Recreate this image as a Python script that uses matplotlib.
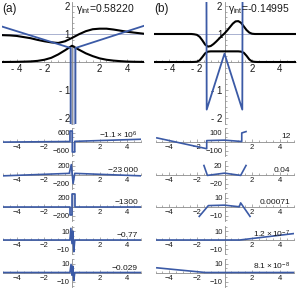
import matplotlib
matplotlib.use('Agg')
import matplotlib.pyplot as plt
from matplotlib.ticker import MultipleLocator

plt.rcParams['font.family'] = ['Liberation Sans', 'DejaVu Sans']
plt.rcParams['mathtext.fontset'] = 'custom'
plt.rcParams['mathtext.rm'] = 'Liberation Sans'
plt.rcParams['mathtext.it'] = 'Liberation Sans:italic'
plt.rcParams['axes.unicode_minus'] = True

# ---------------- data ----------------
# top panel (a)
xa_top = [-5.1, -4.5, -4, -3.5, -3, -2.5, -2, -1.5, -1, -0.5, 0, 0.5, 1, 1.5, 2, 2.5, 3, 3.5, 4, 4.5, 5.2]
a_upper = [0.96, 0.95, 0.93, 0.89, 0.85, 0.79, 0.74, 0.70, 0.68, 0.74, 0.86, 0.99, 1.10, 1.17, 1.19, 1.19, 1.16, 1.12, 1.08, 1.05, 1.01]
a_lower = [0.0, 0.003, 0.006, 0.012, 0.02, 0.04, 0.08, 0.15, 0.27, 0.42, 0.58, 0.44, 0.31, 0.21, 0.13, 0.08, 0.05, 0.03, 0.015, 0.008, 0.003]
a_blue_x = [-5.1, -0.1, -0.1, 0.25, 0.25, 5.2]
a_blue_y = [1.27, 0.5, -3.0, -3.0, 0.5, 1.29]
a_gamma = r'$\mathrm{\gamma_{int}}$=0.58220'

# top panel (b)
xb_top = [-5.1, -3, -2.4, -2.2, -2.0, -1.8, -1.6, -1.4, -1.2, -1.0, -0.8, -0.6, -0.4, -0.2, 0, 0.2, 0.4, 0.6, 0.8, 1.0, 1.2, 1.4, 1.6, 1.8, 2.0, 2.2, 2.4, 3, 5.2]
b_upper = [1, 1, 1, 0.99, 0.97, 0.90, 0.77, 0.62, 0.55, 0.57, 0.64, 0.73, 0.83, 0.93, 1.02, 1.13, 1.25, 1.37, 1.45, 1.46, 1.40, 1.27, 1.14, 1.05, 1.01, 1.0, 1, 1, 1]
b_lower = [0, 0, 0, 0.003, 0.01, 0.06, 0.18, 0.31, 0.37, 0.38, 0.38, 0.38, 0.38, 0.38, 0.38, 0.38, 0.38, 0.38, 0.38, 0.38, 0.37, 0.33, 0.22, 0.09, 0.02, 0.005, 0, 0, 0]
b_blue_x = [-1.31, -1.29, 0, 1.29, 1.31]
b_blue_y = [3.0, -1.7, 0.3, -1.7, 3.0]
b_gamma = r'$\mathrm{\gamma_{int}}$=-0.14995'

# small panels (a)
xa1 = [-5, -0.15, -0.15, 0.02, 0.02, 0.2, 0.2, 5]
ya1 = [-40, 0, 700, 700, -700, -700, 10, 150]
xa2 = [-5, -0.2, -0.05, 0.08, 0.2, 5]
ya2 = [-30, 25, 220, -200, 25, -30]
xa3 = [-5, -0.15, -0.15, 0.0, 0.0, 0.2, 0.2, 5]
ya3 = [0, 0, -190, -190, 280, 280, 0, 0]
xa4 = [-5, -0.15, -0.08, 0.0, 0.06, 0.13, 0.2, 5]
ya4 = [0, 0, 13, -4, 10, -13, 0, 0]
xa5 = [-5, -0.15, -0.07, 0.0, 0.06, 0.13, 0.2, 5]
ya5 = [0, 0, 9, -3, 7, -9, 0, 0]
a_tick = [600, 200, 200, 10, 10]
a_notes = [r'$\mathrm{-1.1\times10^{6}}$', '−23\u2009000', '−1300', '−0.77', '−0.029']

# small panels (b)
xb1 = [-4.9, -1.29, -1.29, 0, 1.25, 1.25, 1.56]
yb1 = [40, -80, 10, 15, 0, 95, 110]
xb2 = [-1.49, -1.24, 0, 1.17, 1.56]
yb2 = [20, -2, 3, -2, 20]
xb3 = [-1.83, -1.17, 0, 1.07, 1.17, 1.85]
yb3 = [-11, 1, 1.5, -0.3, 4, -11]
xb4 = [-5, 1.1, 5]
yb4 = [0, 0, 7.1]
xb5 = [-4.9, -1.4, 5]
yb5 = [5.2, 0, 0]
b_tick = [100, 20, 10, 10, 10]
b_notes = ['12', '0.04', '0.00071', r'$\mathrm{1.2\times10^{-7}}$', r'$\mathrm{8.1\times10^{-8}}$']

# ---------------- styling ----------------
W, H = 300, 291
BLUE = '#3b5aa6'
FILL = '#c3c9de'
AXC = '#8c8c8c'
GRID = '#a9b1d0'
TXT = '#1a1a1a'
UX = 13.8  # px per x unit

fig = plt.figure(figsize=(W / 100, H / 100), dpi=100)


def axes_px(x0, y0, x1, y1):
    return fig.add_axes([x0 / W, 1 - y1 / H, (x1 - x0) / W, (y1 - y0) / H])


def style(ax, fs, xlabels, yt, ylabels, yminor):
    for s in ['top', 'right']:
        ax.spines[s].set_visible(False)
    for s in ['left', 'bottom']:
        ax.spines[s].set_position(('data', 0))
        ax.spines[s].set_color(AXC)
        ax.spines[s].set_linewidth(0.6)
    ax.patch.set_alpha(0)
    ax.set_xticks([-4, -2, 2, 4])
    ax.set_xticklabels(xlabels)
    ax.xaxis.set_minor_locator(MultipleLocator(0.5))
    ax.set_yticks(yt)
    ax.set_yticklabels(ylabels)
    ax.yaxis.set_minor_locator(MultipleLocator(yminor))
    ax.tick_params(which='both', direction='in', color=AXC, width=0.5,
                   labelsize=fs, pad=1.5, labelcolor=TXT)
    ax.tick_params(which='major', length=2.5)
    ax.tick_params(which='minor', length=1.2)


def top_panel(xc, xs, up, lo, bx, by, gamma, letter, fill_spike):
    ax = axes_px(xc - 5.1 * UX, 2, xc + 5.2 * UX, 124)
    ax.set_xlim(-5.1, 5.2)
    ax.set_ylim(-62 / 28, 60 / 28)
    style(ax, 7, ['- 4', '- 2', '2', '4'], [-2, -1, 1, 2], ['- 2', '- 1', '1', '2'], 0.2)
    ax.axhline(1, color=GRID, lw=0.7, zorder=1)
    if fill_spike:
        ax.fill_between([bx[1], bx[3]], [by[2], by[2]], [by[1], by[1]], color=FILL, lw=0, zorder=2)
    ax.plot(xs, up, color='black', lw=1.5, zorder=3)
    ax.plot(xs, lo, color='black', lw=1.5, zorder=3)
    ax.plot(bx, by, color=BLUE, lw=1.3, zorder=4)
    fig.text((xc - 70) / W, 1 - 9 / H, letter, fontsize=8.5, color=TXT, va='center', ha='left')
    fig.text((xc + 4) / W, 1 - 9 / H, gamma, fontsize=7.5, color=TXT, va='center', ha='left')


def small_panel(xc, ay, xs, ys, v, note, spike):
    ax = axes_px(xc - 5 * UX, ay - 14, xc + 5 * UX, ay + 14)
    ax.set_xlim(-5, 5)
    ax.set_ylim(-v * 14 / 9, v * 14 / 9)
    style(ax, 5.5, ['−4', '−2', '2', '4'], [-v, v], ['−' + str(v), str(v)], v / 2)
    if spike:
        xsp = [x for x in xs if abs(x) < 0.5]
        ysp = [y for x, y in zip(xs, ys) if abs(x) < 0.5]
        ax.fill_between(xsp, ysp, 0, color=FILL, lw=0, zorder=2)
    ax.plot(xs, ys, color=BLUE, lw=1.2, zorder=4)
    fig.text((xc + 66) / W, 1 - (ay - 3) / H, note, fontsize=6, color=TXT, ha='right', va='baseline')


top_panel(72, xa_top, a_upper, a_lower, a_blue_x, a_blue_y, a_gamma, '(a)', True)
top_panel(224.5, xb_top, b_upper, b_lower, b_blue_x, b_blue_y, b_gamma, '(b)', False)

rows_y = [141.5, 174.5, 206.5, 240, 272.5]
a_series = [(xa1, ya1), (xa2, ya2), (xa3, ya3), (xa4, ya4), (xa5, ya5)]
b_series = [(xb1, yb1), (xb2, yb2), (xb3, yb3), (xb4, yb4), (xb5, yb5)]
for i, ay in enumerate(rows_y):
    small_panel(72, ay, a_series[i][0], a_series[i][1], a_tick[i], a_notes[i], True)
    small_panel(224.5, ay, b_series[i][0], b_series[i][1], b_tick[i], b_notes[i], False)

fig.savefig('out.png', dpi=100)
